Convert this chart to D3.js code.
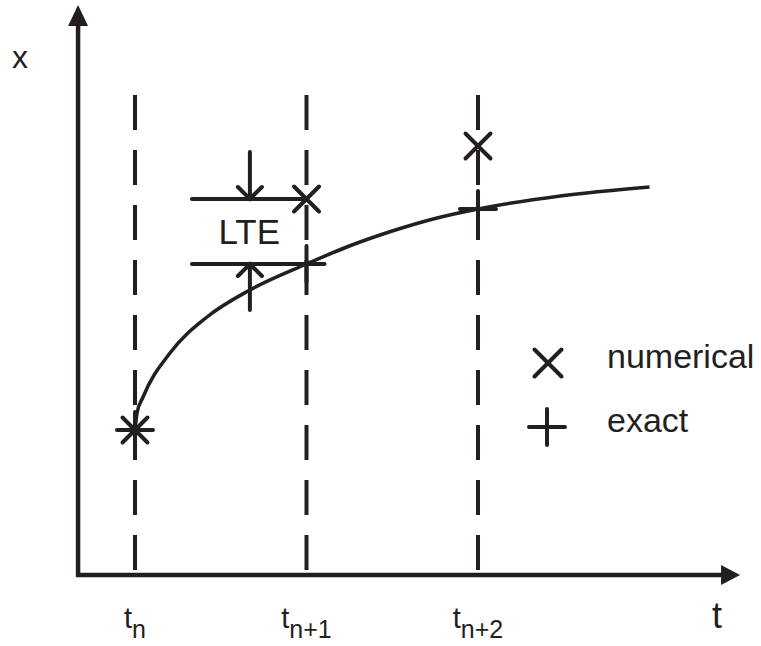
<!DOCTYPE html>
<html>
<head>
<meta charset="utf-8">
<script src="https://cdn.jsdelivr.net/npm/d3@7"></script>
<style>
  body { margin: 0; background: #fff; }
  svg { display: block; }
  text { font-family: "Liberation Sans", Arial, Helvetica, sans-serif; fill: #231f20; }
</style>
</head>
<body>
<svg id="chart" width="761" height="646"></svg>
<script>
// Time steps t_n, t_n+1, t_n+2
const stepT = [1, 2, 3];
const stepSub = ["n", "n+1", "n+2"];

// Exact solution x(t)
const curveT = [1, 1.012, 1.047, 1.204, 1.42, 1.67, 2, 2.25, 2.5, 2.75, 3, 3.48, 4.0];
const curveX = [2.9, 3.24, 3.56, 4.44, 5.16, 5.70, 6.22, 6.58, 6.88, 7.13, 7.32, 7.58, 7.76];

// Values at each step
const numericalX = [2.9, 7.52, 8.58];
const exactX = [2.9, 6.22, 7.32];

// Legend entries
const legendLabels = ["numerical", "exact"];

// Axis extents (origin to arrow tip) and step-line top
const tExtent = [0.668, 4.528];
const xExtent = [0, 11.4];
const stepLineTop = 9.6;
const lteLeftT = 1.332;
const lteArrowT = 1.67;

const INK = "#231f20";
const svg = d3.select("#chart");

const tScale = d3.scaleLinear().domain([1, 3]).range([135, 478]);
const xScale = d3.scaleLinear().domain([0, 11.4]).range([575, 5]);

const x0 = tScale(tExtent[0]);
const y0 = xScale(xExtent[0]);

// Dashed step lines
svg.append("g").selectAll("line").data(stepT).join("line")
  .attr("x1", d => tScale(d)).attr("x2", d => tScale(d))
  .attr("y1", xScale(stepLineTop)).attr("y2", y0)
  .attr("stroke", INK).attr("stroke-width", 4)
  .attr("stroke-dasharray", "35,20");

// Axes with arrowheads
const axes = svg.append("g");
axes.append("line")
  .attr("x1", x0).attr("y1", y0 + 2)
  .attr("x2", x0).attr("y2", xScale(xExtent[1]) + 16)
  .attr("stroke", INK).attr("stroke-width", 4.5);
axes.append("line")
  .attr("x1", x0 - 2).attr("y1", y0)
  .attr("x2", tScale(tExtent[1]) - 16).attr("y2", y0)
  .attr("stroke", INK).attr("stroke-width", 4.5);
const yTip = xScale(xExtent[1]);
axes.append("path")
  .attr("d", `M${x0},${yTip} L${x0 + 10},${yTip + 21} L${x0 - 10},${yTip + 21} Z`)
  .attr("fill", INK);
const tTip = tScale(tExtent[1]);
axes.append("path")
  .attr("d", `M${tTip},${y0} L${tTip - 19},${y0 - 10} L${tTip - 19},${y0 + 10} Z`)
  .attr("fill", INK);

// Axis labels
svg.append("text").attr("x", 12).attr("y", 68)
  .style("font-size", "32px").text("x");
svg.append("text").attr("x", 717).attr("y", 628)
  .attr("text-anchor", "middle").style("font-size", "36px").text("t");

// Step tick labels t_n, t_n+1, t_n+2
const tickLabels = svg.append("g").selectAll("text").data(stepT).join("text")
  .attr("x", d => tScale(d)).attr("y", 628)
  .attr("text-anchor", "middle")
  .style("font-size", "29px");
tickLabels.append("tspan").text("t");
tickLabels.append("tspan")
  .attr("dy", 10)
  .style("font-size", "25px")
  .text((d, i) => stepSub[i]);

// Exact solution curve
const line = d3.line()
  .x(d => tScale(d[0]))
  .y(d => xScale(d[1]))
  .curve(d3.curveMonotoneX);
svg.append("path")
  .datum(curveT.map((t, i) => [t, curveX[i]]))
  .attr("d", line)
  .attr("fill", "none").attr("stroke", INK).attr("stroke-width", 3.5);

// Marker shapes
const crossPath = (cx, cy, r) => `M${cx - r},${cy - r}L${cx + r},${cy + r}M${cx - r},${cy + r}L${cx + r},${cy - r}`;
const plusPath = (cx, cy, r) => `M${cx - r},${cy}L${cx + r},${cy}M${cx},${cy - r}L${cx},${cy + r}`;

// LTE bracket: horizontal lines at numerical and exact values at t_n+1
const lte = svg.append("g").attr("stroke", INK).attr("stroke-width", 4).attr("fill", "none");
const yNum = xScale(numericalX[1]);
const yEx = xScale(exactX[1]);
lte.append("line").attr("x1", tScale(lteLeftT)).attr("x2", tScale(stepT[1]))
  .attr("y1", yNum).attr("y2", yNum).attr("stroke-linecap", "round");
lte.append("line").attr("x1", tScale(lteLeftT)).attr("x2", tScale(stepT[1]))
  .attr("y1", yEx).attr("y2", yEx).attr("stroke-linecap", "round");
const ax = tScale(lteArrowT);
lte.append("path")
  .attr("d", `M${ax},${yNum - 47}L${ax},${yNum}M${ax - 12},${yNum - 12}L${ax},${yNum}L${ax + 12},${yNum - 12}`)
  .attr("stroke-linecap", "round");
lte.append("path")
  .attr("d", `M${ax},${yEx + 46}L${ax},${yEx}M${ax - 12},${yEx + 12}L${ax},${yEx}L${ax + 12},${yEx + 12}`)
  .attr("stroke-linecap", "round");
svg.append("text")
  .attr("x", (tScale(lteLeftT) + tScale(stepT[1])) / 2)
  .attr("y", (yNum + yEx) / 2 + 12)
  .attr("text-anchor", "middle")
  .style("font-size", "35px")
  .text("LTE");

// Numerical (×) and exact (+) markers
const marks = svg.append("g").attr("stroke", INK).attr("stroke-width", 4).attr("fill", "none")
  .attr("stroke-linecap", "round");
marks.selectAll("path.num").data(stepT).join("path").attr("class", "num")
  .attr("d", (d, i) => crossPath(tScale(d), xScale(numericalX[i]), 12.5));
marks.selectAll("path.ex").data(stepT).join("path").attr("class", "ex")
  .attr("d", (d, i) => plusPath(tScale(d), xScale(exactX[i]), 18));

// Legend
const legend = svg.append("g");
legend.append("path").attr("d", crossPath(548, 363, 13.5))
  .attr("stroke", INK).attr("stroke-width", 4).attr("stroke-linecap", "round");
legend.append("path").attr("d", plusPath(547, 427, 18))
  .attr("stroke", INK).attr("stroke-width", 4).attr("stroke-linecap", "round");
legend.selectAll("text").data(legendLabels).join("text")
  .attr("x", 607).attr("y", (d, i) => 368 + i * 64)
  .style("font-size", "34px")
  .text(d => d);
</script>
</body>
</html>
